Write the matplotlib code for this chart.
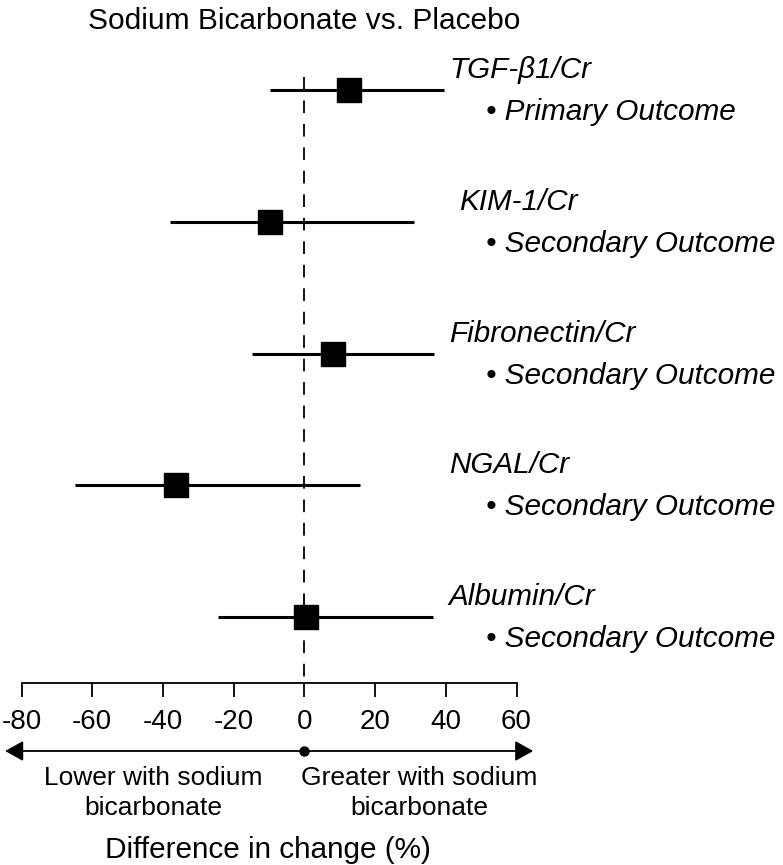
import matplotlib
matplotlib.use('Agg')
from matplotlib import pyplot as plt
from matplotlib import transforms

plt.rcParams['font.family'] = ['Liberation Sans', 'DejaVu Sans']

markers = ['TGF-β1/Cr', 'KIM-1/Cr', 'Fibronectin/Cr', 'NGAL/Cr', 'Albumin/Cr']
outcomes = ['Primary Outcome', 'Secondary Outcome', 'Secondary Outcome',
            'Secondary Outcome', 'Secondary Outcome']
est = [12.7, -9.8, 8.0, -36.2, 0.4]
lo = [-9.6, -37.9, -14.9, -64.8, -24.3]
hi = [39.6, 31.0, 36.6, 15.6, 36.4]
ticks = [-80, -60, -40, -20, 0, 20, 40, 60]

W, H = 783, 865
fig = plt.figure(figsize=(W / 100, H / 100), dpi=100)
ax = fig.add_axes([21.5 / W, 182 / H, 495 / W, 643 / H])
ax.set_xlim(-80, 60)
ax.set_ylim(4.5, -0.38)

rows = list(range(len(markers)))
ax.plot([0, 0], [-0.1, 4.455], color='black', lw=1.3, ls=(0, (7, 6)))
for i in rows:
    ax.plot([lo[i], hi[i]], [i, i], color='black', lw=2.2, solid_capstyle='butt')
ax.plot(est, rows, 's', color='black', markersize=17.5)

for i in rows:
    nx = 43.7 if i == 1 else 40.9
    ax.text(nx, i - 0.091, markers[i], style='italic', fontsize=21.3,
            ha='left', va='baseline', clip_on=False)
    ax.text(51.3, i + 0.228, '• ' + outcomes[i], style='italic', fontsize=21.4,
            ha='left', va='baseline', clip_on=False)

for s in ['top', 'left', 'right']:
    ax.spines[s].set_visible(False)
ax.spines['bottom'].set_linewidth(1.3)
ax.set_yticks([])
ax.set_xticks(ticks)
ax.set_xticklabels([str(t) for t in ticks])
ax.tick_params(axis='x', direction='out', length=10, width=1.3, pad=8.6, labelsize=20)

tr = transforms.blended_transform_factory(ax.transData, fig.transFigure)

def fy(py):
    return 1 - py / H

ax.text(0, fy(29), 'Sodium Bicarbonate vs. Placebo', transform=tr,
        ha='center', va='baseline', fontsize=21.5, clip_on=False)

head = '-|>,head_length=0.5,head_width=0.28'
ax.annotate('', xy=(-85.4, fy(751)), xytext=(0, fy(751)), xycoords=tr, textcoords=tr,
            arrowprops=dict(arrowstyle=head, color='black', lw=1.3, mutation_scale=22))
ax.annotate('', xy=(65.5, fy(751)), xytext=(0, fy(751)), xycoords=tr, textcoords=tr,
            arrowprops=dict(arrowstyle=head, color='black', lw=1.3, mutation_scale=22))
ax.plot([0], [fy(751)], 'o', color='black', markersize=6.5, transform=tr, clip_on=False)

ax.text(-42.6, fy(785), 'Lower with sodium', transform=tr, ha='center',
        va='baseline', fontsize=19, clip_on=False)
ax.text(-42.6, fy(815), 'bicarbonate', transform=tr, ha='center',
        va='baseline', fontsize=19, clip_on=False)
ax.text(32.4, fy(785), 'Greater with sodium', transform=tr, ha='center',
        va='baseline', fontsize=19, clip_on=False)
ax.text(32.4, fy(815), 'bicarbonate', transform=tr, ha='center',
        va='baseline', fontsize=19, clip_on=False)
ax.text(-10.2, fy(858), 'Difference in change (%)', transform=tr, ha='center',
        va='baseline', fontsize=21.4, clip_on=False)

fig.savefig('out.png', dpi=100)
